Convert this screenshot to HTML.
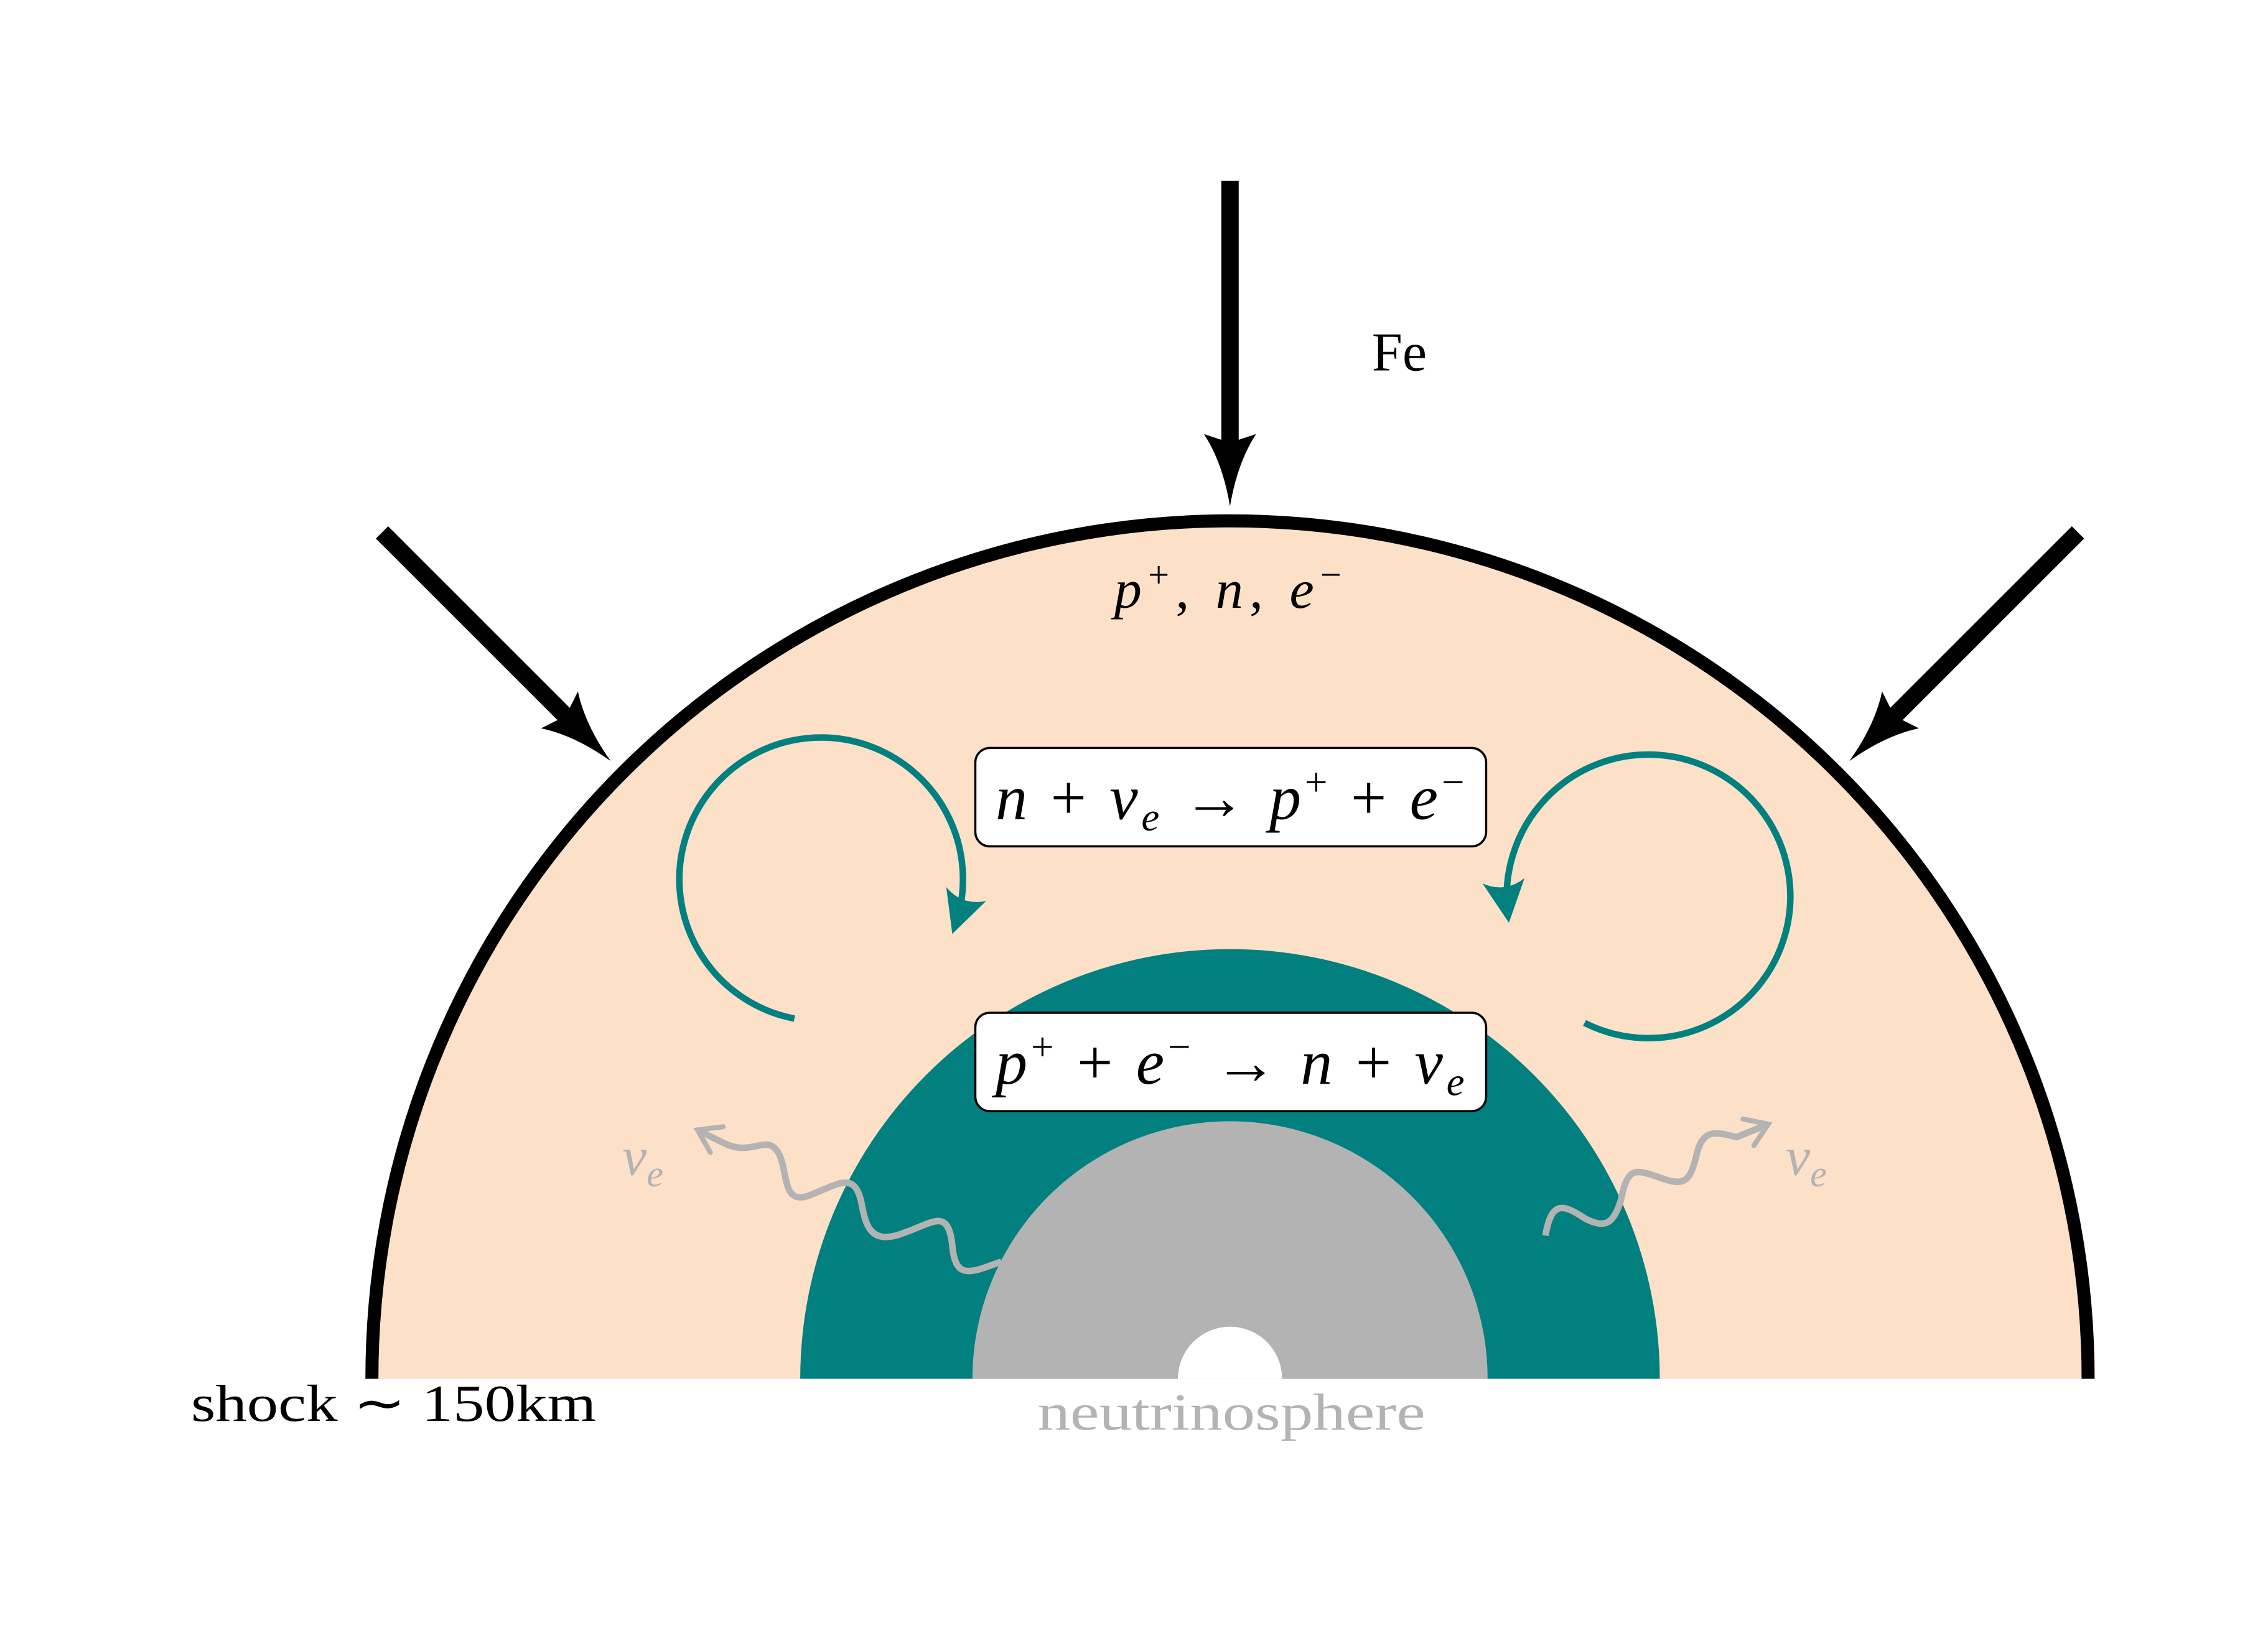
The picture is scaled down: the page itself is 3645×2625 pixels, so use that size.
<!DOCTYPE html>
<html><head><meta charset="utf-8"><style>html,body{margin:0;padding:0;background:#fff}svg{display:block}</style></head>
<body>
<svg width="3645" height="2625" viewBox="0 0 1567.3 1128.7" xmlns="http://www.w3.org/2000/svg">
<defs>
<marker id="th" viewBox="0 0 10 10" refX="8" refY="5" markerWidth="6.5" markerHeight="6.5" markerUnits="strokeWidth" orient="auto">
<path d="M0,0 Q3,5 0,10 L10,5 Z" fill="#028080"/></marker>
<marker id="gh" viewBox="0 0 10 10" refX="7" refY="5" markerWidth="5.5" markerHeight="5.5" markerUnits="strokeWidth" orient="auto">
<path d="M1,1 L7,5 L1,9" fill="none" stroke="#b3b3b3" stroke-width="1.4" stroke-linecap="round"/></marker>
<path id="sh" d="M0,0 Q5,-30 18,-50 L0,-44 L-18,-50 Q-5,-30 0,0 Z" fill="#000"/>
</defs>
<path d="M257,953 A593,593 0 0 1 1443,953 Z" fill="#fde0c8"/>
<path d="M257,953 A593,593 0 0 1 1443,953" fill="none" stroke="#000" stroke-width="9"/>
<path d="M553,953 A297,297 0 0 1 1147,953 Z" fill="#028080"/>
<path d="M672,953 A178,178 0 0 1 1028,953 Z" fill="#b3b3b3"/>
<path d="M814,953 A36,36 0 0 1 886,953 Z" fill="#fff"/>
<line x1="850" y1="125" x2="850" y2="310" stroke="#000" stroke-width="12"/>
<use href="#sh" transform="translate(850,350)"/>
<line x1="264" y1="368" x2="395" y2="499" stroke="#000" stroke-width="12"/>
<use href="#sh" transform="translate(422,526) rotate(-45)"/>
<line x1="1436" y1="368" x2="1305" y2="499" stroke="#000" stroke-width="12"/>
<use href="#sh" transform="translate(1278,526) rotate(45)"/>
<path d="M549,704 A98,98 0 1 1 660,640" fill="none" stroke="#028080" stroke-width="4.5" marker-end="url(#th)"/>
<path d="M1095,707 A98,98 0 1 0 1042,632" fill="none" stroke="#028080" stroke-width="4.5" marker-end="url(#th)"/>
<path d="M692,872 C670,880 660,885 658,860 C655,835 645,845 625,852 C600,862 598,845 595,830 C590,810 580,818 560,826 C540,834 545,810 538,797 C530,783 520,800 500,790 L482,781" fill="none" stroke="#b3b3b3" stroke-width="4.5" marker-end="url(#gh)"/>
<path d="M1068,854 C1072,830 1080,832 1095,842 C1110,850 1115,845 1120,830 C1125,805 1130,808 1150,815 C1165,820 1168,815 1172,800 C1176,780 1185,782 1200,786 L1222,777" fill="none" stroke="#b3b3b3" stroke-width="4.5" marker-end="url(#gh)"/>
<rect x="674" y="517" width="353" height="68" rx="10" fill="#fff" stroke="#000" stroke-width="1.5"/>
<rect x="674" y="700" width="353" height="68" rx="10" fill="#fff" stroke="#000" stroke-width="1.5"/>
<g font-family="Liberation Serif, serif" font-size="44">
<text x="688" y="566" textLength="324" lengthAdjust="spacing"><tspan font-style="italic">n</tspan> + <tspan font-style="italic">ν</tspan><tspan font-style="italic" font-size="28" dy="8">e</tspan><tspan dy="-8"> → </tspan><tspan font-style="italic">p</tspan><tspan font-size="28" dy="-16">+</tspan><tspan dy="16"> + </tspan><tspan font-style="italic">e</tspan><tspan font-size="28" dy="-16">−</tspan></text>
<text x="688" y="749" textLength="324" lengthAdjust="spacing"><tspan font-style="italic">p</tspan><tspan font-size="28" dy="-16">+</tspan><tspan dy="16"> + </tspan><tspan font-style="italic">e</tspan><tspan font-size="28" dy="-16">−</tspan><tspan dy="16"> → </tspan><tspan font-style="italic">n</tspan> + <tspan font-style="italic">ν</tspan><tspan font-style="italic" font-size="28" dy="8">e</tspan></text>
<text x="770" y="420" font-size="38" textLength="157" lengthAdjust="spacing"><tspan font-style="italic">p</tspan><tspan font-size="26" dy="-14">+</tspan><tspan dy="14">, </tspan><tspan font-style="italic">n</tspan>, <tspan font-style="italic">e</tspan><tspan font-size="26" dy="-14">−</tspan></text>
<text x="948" y="256" font-size="38">Fe</text>
<text x="717" y="988" font-size="36" fill="#b3b3b3" textLength="268" lengthAdjust="spacingAndGlyphs">neutrinosphere</text>
<text x="132" y="982" font-size="36" textLength="280" lengthAdjust="spacingAndGlyphs">shock ∼ 150km</text>
<text x="430" y="812" font-size="38" fill="#b3b3b3" font-style="italic">ν<tspan font-size="26" dy="8">e</tspan></text>
<text x="1234" y="812" font-size="38" fill="#b3b3b3" font-style="italic">ν<tspan font-size="26" dy="8">e</tspan></text>
</g>
</svg>
</body></html>
